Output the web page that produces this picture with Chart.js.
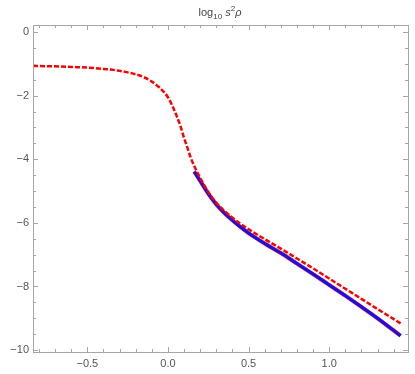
<!DOCTYPE html>
<html><head><meta charset="utf-8">
<script src="https://cdn.jsdelivr.net/npm/chart.js@4/dist/chart.umd.min.js"></script>
<style>html,body{margin:0;padding:0;background:#fff}#wrap{width:415px;height:374px;position:relative}</style>
</head><body><div id="wrap"><canvas id="c"></canvas></div>
<script>
// Data
const redX = [-0.837,-0.7,-0.6,-0.5,-0.4,-0.3,-0.25,-0.2,-0.15,-0.1,-0.05,0.0,0.03,0.056,0.08,0.1,0.12,0.14,0.16,0.18,0.21,0.24,0.3,0.35,0.4,0.45,0.5,0.55,0.6,0.7,0.8,0.9,1.0,1.1,1.2,1.3,1.443];
const redY = [-1.07,-1.08,-1.10,-1.12,-1.16,-1.22,-1.27,-1.33,-1.42,-1.56,-1.76,-2.05,-2.35,-2.66,-3.0,-3.33,-3.63,-3.93,-4.18,-4.39,-4.68,-4.95,-5.37,-5.62,-5.84,-6.03,-6.20,-6.36,-6.51,-6.81,-7.12,-7.43,-7.75,-8.07,-8.39,-8.71,-9.16];
const blueX = [0.163,0.2,0.25,0.3,0.35,0.4,0.45,0.5,0.55,0.6,0.7,0.8,0.9,1.0,1.1,1.2,1.3,1.443];
const blueY = [-4.39,-4.68,-5.08,-5.42,-5.69,-5.92,-6.13,-6.32,-6.49,-6.65,-6.95,-7.28,-7.61,-7.95,-8.29,-8.64,-9.00,-9.55];
const xTicks = [-0.5,0,0.5,1.0];
const yTicks = [0,-2,-4,-6,-8,-10];

const toPts = (xs, ys) => xs.map((x,i)=>({x, y: ys[i]}));
const FRAME = '#a6a6a6';
const LABEL = '#555';
const FONT = '"Liberation Sans Narrow", "Liberation Sans", Arial';

const framePlugin = {
  id: 'frame',
  afterDraw(chart) {
    const {ctx, chartArea: a, scales: {x, y}} = chart;
    ctx.save();
    ctx.strokeStyle = FRAME; ctx.lineWidth = 1;
    ctx.strokeRect(Math.round(a.left)+0.5, Math.round(a.top)+0.5, Math.round(a.right-a.left), Math.round(a.bottom-a.top));
    ctx.beginPath();
    for (let i = -8; i <= 14; i++) {
      const v = i/10; const px = Math.round(x.getPixelForValue(v))+0.5;
      if (px < a.left+1 || px > a.right-1) continue;
      const L = (i % 5 === 0) ? 5 : 3;
      ctx.moveTo(px, a.bottom); ctx.lineTo(px, a.bottom-L);
      ctx.moveTo(px, a.top); ctx.lineTo(px, a.top+L);
    }
    for (let i = 0; i >= -20; i--) {
      const v = i/2; const py = Math.round(y.getPixelForValue(v))+0.5;
      if (py < a.top+1 || py > a.bottom-1) continue;
      const L = (i % 4 === 0) ? 5 : 3;
      ctx.moveTo(a.left, py); ctx.lineTo(a.left+L, py);
      ctx.moveTo(a.right, py); ctx.lineTo(a.right-L, py);
    }
    ctx.stroke();
    // title: log10 s^2 rho
    const cx = 220, by = 16;
    ctx.fillStyle = '#444';
    ctx.textBaseline = 'alphabetic';
    const parts = [
      {t:'log', f:'11px ' + FONT, dy:0},
      {t:'10', f:'8px ' + FONT, dy:3},
      {t:' ', f:'11px ' + FONT, dy:0},
      {t:'s', f:'italic 11px ' + FONT, dy:0},
      {t:'2', f:'8px ' + FONT, dy:-5},
      {t:'ρ', f:'italic 11px ' + FONT, dy:0}
    ];
    let w = 0;
    parts.forEach(p => { ctx.font = p.f; p.w = ctx.measureText(p.t).width; w += p.w; });
    let xx = cx - w/2;
    ctx.textAlign = 'left';
    parts.forEach(p => { ctx.font = p.f; ctx.fillText(p.t, xx, by + p.dy); xx += p.w; });
    ctx.restore();
  }
};

new Chart(document.getElementById('c'), {
  type: 'scatter',
  data: {
    datasets: [
      {data: toPts(blueX, blueY), showLine: true, borderColor: '#1010f0', borderWidth: 3, pointRadius: 0, cubicInterpolationMode: 'monotone', order: 1},
      {data: toPts(blueX, blueY), showLine: true, borderColor: '#ff2020', borderWidth: 4, pointRadius: 0, cubicInterpolationMode: 'monotone', order: 2},
      {data: toPts(redX, redY), showLine: true, borderColor: '#ff0000', borderWidth: 2.5, borderDash: [5,2], pointRadius: 0, cubicInterpolationMode: 'monotone', order: 0}
    ]
  },
  options: {
    responsive: true, maintainAspectRatio: false, animation: false,
    layout: {padding: {top: 25, right: 7, left: 0, bottom: 0}},
    plugins: {legend: {display: false}, tooltip: {enabled: false}},
    scales: {
      x: {
        type: 'linear', min: -0.837, max: 1.489,
        afterBuildTicks: s => { s.ticks = xTicks.map(v => ({value: v})); },
        afterFit: s => { s.height = 22; },
        grid: {display: false, drawTicks: false},
        border: {display: false},
        ticks: {padding: 5, color: LABEL, font: {family: FONT, size: 11},
          callback: v => Number(v).toFixed(1).replace('-', '\u2212'), maxRotation: 0, autoSkip: false}
      },
      y: {
        type: 'linear', min: -10.06, max: 0.22,
        afterBuildTicks: s => { s.ticks = yTicks.map(v => ({value: v})); },
        afterFit: s => { s.width = 33; },
        grid: {display: false, drawTicks: false},
        border: {display: false},
        ticks: {padding: 4, color: LABEL, font: {family: FONT, size: 11},
          callback: v => String(v).replace('-', '\u2212'), autoSkip: false}
      }
    }
  },
  plugins: [framePlugin]
});
</script></body></html>
